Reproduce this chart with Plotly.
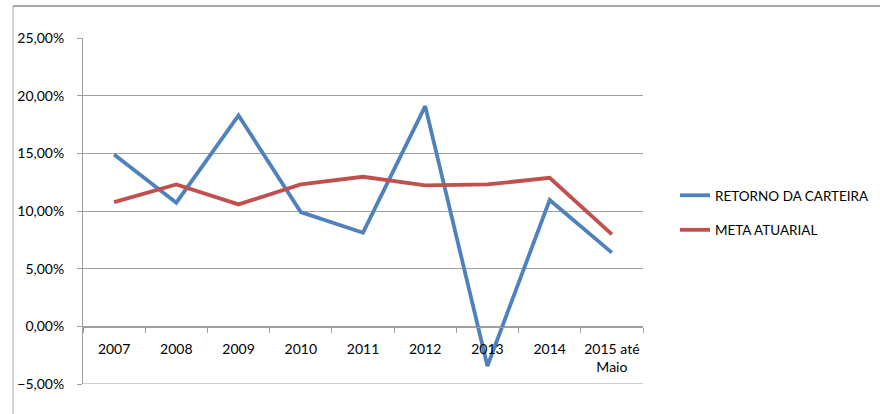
import plotly.graph_objects as go

categories = ["2007", "2008", "2009", "2010", "2011", "2012", "2013", "2014", "2015 até<br>Maio"]
retorno_carteira = [0.149, 0.1072, 0.1828, 0.099, 0.0812, 0.1909, -0.0344, 0.1095, 0.0639]
meta_atuarial = [0.1077, 0.123, 0.1057, 0.123, 0.1297, 0.1222, 0.123, 0.1288, 0.0797]
y_ticks = [-0.05, 0.0, 0.05, 0.10, 0.15, 0.20, 0.25]

FONT = "Lato"
BLUE = "#4F81BD"
RED = "#C0504D"
GRID = "#A0A0A0"

W, H = 880, 414
L, R, T, B = 83, 643, 38, 384  # plot area pixel bounds

fig = go.Figure()
fig.add_trace(go.Scatter(x=categories, y=retorno_carteira, mode="lines",
                         name="RETORNO DA CARTEIRA", legendgroup="a",
                         line=dict(color=BLUE, width=3.8)))
fig.add_trace(go.Scatter(x=categories, y=meta_atuarial, mode="lines",
                         name="META ATUARIAL", legendgroup="b",
                         line=dict(color=RED, width=3.8)))

def px_x(p):
    return (p - L) / (R - L)

def px_y(p):
    return (B - p) / (B - T)

fig.update_layout(
    width=W, height=H,
    margin=dict(l=L, r=W - R, t=T, b=H - B, pad=0, autoexpand=False),
    paper_bgcolor="white", plot_bgcolor="white",
    separators=",.",
    font=dict(family=FONT, size=14, color="#000000"),
    showlegend=True,
    legend=dict(x=px_x(675), y=px_y(213), xanchor="left", yanchor="middle",
                traceorder="grouped", tracegroupgap=14,
                font=dict(family=FONT, size=13.5, color="#000000"),
                bgcolor="rgba(0,0,0,0)"),
    xaxis=dict(type="category", anchor="free", position=px_y(327),
               showgrid=False, showline=True, linecolor=GRID, linewidth=1,
               ticks="outside", tickson="boundaries", ticklen=5, tickcolor=GRID,
               tickangle=0, automargin=False, ticklabelstandoff=9,
               tickfont=dict(family=FONT, size=14), zeroline=False,
               range=[-0.5, len(categories) - 0.5], fixedrange=True),
    yaxis=dict(range=[-0.05, 0.25], tickvals=y_ticks, tickformat=".2%",
               showgrid=True, gridcolor=GRID, gridwidth=1,
               showline=True, linecolor=GRID, linewidth=1,
               ticks="outside", ticklen=5, tickcolor=GRID,
               ticklabelstandoff=10, zeroline=False, automargin=False,
               tickfont=dict(family=FONT, size=14), fixedrange=True),
)

# outer chart border (top and left edges visible)
fig.add_shape(type="line", xref="paper", yref="paper",
              x0=px_x(13), x1=px_x(W + 5), y0=px_y(6), y1=px_y(6),
              line=dict(color="#A6A6A6", width=2))
fig.add_shape(type="line", xref="paper", yref="paper",
              x0=px_x(13), x1=px_x(13), y0=px_y(6), y1=px_y(H + 5),
              line=dict(color="#A6A6A6", width=1))
# bottom gridline at -5%
fig.add_shape(type="line", xref="paper", yref="y",
              x0=0, x1=1, y0=-0.05, y1=-0.05,
              line=dict(color=GRID, width=1))

fig.write_html("out.html", config={"displayModeBar": False},
               post_script="document.body.style.margin='0px';")
